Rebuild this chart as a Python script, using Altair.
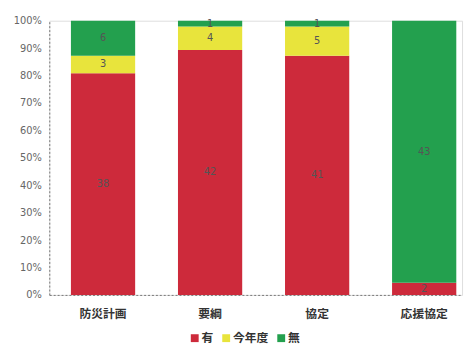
import altair as alt
import pandas as pd

categories = ["防災計画", "要綱", "協定", "応援協定"]
series = ["有", "今年度", "無"]
vals_yu = [38, 42, 41, 2]
vals_kon = [3, 4, 5, 0]
vals_mu = [6, 1, 1, 43]
colors = ["#cd2a3b", "#e8e43c", "#23a04e"]
y_ticks = [0, 0.1, 0.2, 0.3, 0.4, 0.5, 0.6, 0.7, 0.8, 0.9, 1.0]

rows = []
for i, c in enumerate(categories):
    for j, (s, arr) in enumerate(zip(series, [vals_yu, vals_kon, vals_mu])):
        rows.append({"cat": c, "ser": s, "ord": j, "v": arr[i],
                     "lbl": str(arr[i]) if arr[i] > 0 else ""})
df = pd.DataFrame(rows)

base = alt.Chart(df).transform_stack(
    stack="v", groupby=["cat"], sort=[alt.SortField("ord")],
    as_=["y0", "y1"], offset="normalize"
).transform_calculate(mid="(datum.y0 + datum.y1) / 2")

yscale = alt.Scale(domain=[0, 1], nice=False)
yaxis = alt.Axis(format=".0%", values=y_ticks, grid=False, ticks=False,
                 labelOverlap=False, tickCount=11,
                 labelFont="DejaVu Sans", labelFontSize=10, labelColor="#666666",
                 labelPadding=8, domainColor="#777777", domainDash=[2, 2])

x = alt.X("cat:N", sort=categories, title=None,
          scale=alt.Scale(paddingInner=0.4, paddingOuter=0.128, align=0.79),
          axis=alt.Axis(labelAngle=0, labelFont="Noto Sans CJK JP", labelFontSize=12,
                        labelFontWeight="bold", labelColor="#333333", labelPadding=14,
                        ticks=False, domainColor="#777777", domainDash=[2, 2],
                        domainWidth=1))

bars = base.mark_bar().encode(
    x=x,
    y=alt.Y("y0:Q", title=None, scale=yscale, axis=yaxis),
    y2="y1:Q",
    color=alt.Color("ser:N", sort=series,
                    scale=alt.Scale(domain=series, range=colors),
                    legend=alt.Legend(title=None, orient="none", legendX=142, legendY=317,
                                      direction="horizontal", symbolType="square",
                                      symbolSize=64, symbolStrokeWidth=0,
                                      labelFont="Noto Sans CJK JP", labelFontSize=12,
                                      labelFontWeight="bold", labelColor="#333333",
                                      columnPadding=6, labelOffset=1)),
)

texts = base.transform_filter("datum.v > 0").mark_text(
    font="DejaVu Sans", fontSize=10, color="#555555", baseline="middle"
).encode(
    x=alt.X("cat:N", sort=categories),
    y=alt.Y("mid:Q", title=None, scale=yscale, axis=yaxis),
    text="lbl:N",
)

chart = alt.layer(bars, texts).properties(
    width=420, height=279,
    autosize=alt.AutoSizeParams(type="none"),
    padding={"left": 42, "top": 10, "right": 3, "bottom": 48},
).configure_view(stroke=None).configure(background="white")

chart.save("out.html", embed_options={"renderer": "svg", "actions": False})
